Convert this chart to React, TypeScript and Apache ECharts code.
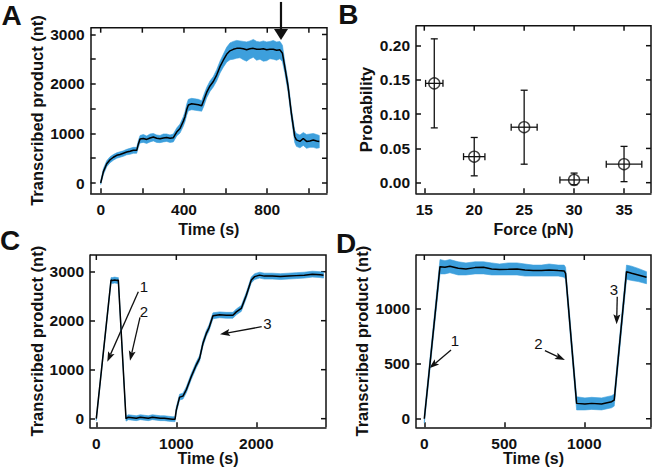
import React, { useEffect, useRef } from 'react';
import * as echarts from 'echarts';

// ---------- Panel A ----------
const aTime = [0, 13, 29, 45, 61, 77, 93, 109, 125, 141, 157, 173, 181, 189, 205, 221, 237, 253, 269, 285, 301, 317, 333, 349, 365, 381, 397, 405, 413, 421, 437, 453, 469, 485, 496, 509, 525, 541, 557, 573, 589, 605, 621, 637, 653, 669, 685, 701, 717, 733, 749, 765, 781, 797, 813, 829, 845, 861, 873, 884, 900, 916, 932, 940, 957, 973, 989, 1005, 1021, 1037, 1050];
const aMean = [0, 230, 390, 470, 520, 560, 575, 600, 625, 640, 660, 660, 790, 890, 900, 880, 910, 930, 905, 895, 910, 920, 905, 915, 1030, 1100, 1250, 1340, 1480, 1575, 1600, 1590, 1580, 1560, 1680, 1830, 1960, 2050, 2180, 2350, 2480, 2600, 2670, 2700, 2720, 2720, 2710, 2690, 2710, 2720, 2700, 2700, 2710, 2690, 2700, 2700, 2680, 2690, 2620, 2350, 1950, 1400, 940, 870, 840, 900, 840, 850, 870, 850, 840];
const aLow = [-30, 170, 330, 410, 460, 500, 520, 540, 570, 580, 600, 600, 720, 810, 820, 800, 830, 850, 820, 815, 830, 840, 820, 830, 950, 1010, 1150, 1240, 1370, 1460, 1480, 1470, 1460, 1450, 1560, 1720, 1850, 1940, 2060, 2220, 2340, 2440, 2490, 2500, 2520, 2530, 2490, 2460, 2510, 2540, 2480, 2500, 2460, 2470, 2510, 2500, 2480, 2510, 2450, 2230, 1840, 1300, 820, 740, 710, 760, 700, 720, 720, 700, 710];
const aHigh = [40, 290, 450, 530, 575, 610, 630, 650, 680, 700, 720, 720, 860, 960, 980, 950, 990, 1000, 970, 960, 990, 990, 970, 990, 1110, 1190, 1340, 1440, 1590, 1690, 1710, 1700, 1690, 1660, 1790, 1930, 2060, 2150, 2290, 2460, 2600, 2740, 2830, 2860, 2880, 2870, 2860, 2850, 2870, 2900, 2860, 2850, 2870, 2850, 2860, 2880, 2850, 2860, 2780, 2460, 2060, 1500, 1060, 1000, 970, 1020, 980, 990, 1000, 980, 960];
const aXTicks = [0, 200, 400, 600, 800, 1000];
const aXLabels = [0, 400, 800];
const aYTicks = [0, 500, 1000, 1500, 2000, 2500, 3000];
const aYLabels = [0, 1000, 2000, 3000];

// ---------- Panel B ----------
const bForce = [16, 20, 25, 30, 35];
const bProb = [0.145, 0.038, 0.081, 0.004, 0.027];
const bProbLow = [0.08, 0.01, 0.027, -0.003, 0.0015];
const bProbHigh = [0.21, 0.066, 0.135, 0.014, 0.053];
const bForceErr = [0.87, 1.07, 1.3, 1.42, 1.78];
const bXTicks = [15, 20, 25, 30, 35];
const bYTicks = [0, 0.05, 0.1, 0.15, 0.2];

// ---------- Panel C ----------
const cTime = [0, 184, 200, 230, 263, 275, 371, 400, 450, 500, 550, 600, 650, 700, 750, 800, 850, 900, 950, 984, 1000, 1041, 1083, 1125, 1187, 1250, 1291, 1333, 1375, 1408, 1458, 1541, 1625, 1708, 1750, 1812, 1875, 1937, 1979, 2041, 2100, 2200, 2300, 2400, 2500, 2600, 2700, 2800, 2840];
const cMean = [0, 2830, 2820, 2830, 2820, 2830, 0, 30, 20, 10, 30, 20, 10, 30, 20, 10, 10, 0, -10, -10, 180, 440, 460, 590, 860, 1100, 1230, 1540, 1740, 1850, 2100, 2120, 2110, 2110, 2180, 2250, 2520, 2830, 2900, 2930, 2910, 2910, 2900, 2910, 2920, 2930, 2950, 2940, 2930];
const cLow = [-40, 2770, 2760, 2770, 2760, 2770, -50, -20, -30, -40, -20, -30, -40, -20, -30, -40, -40, -50, -60, -60, 120, 380, 400, 530, 800, 1040, 1170, 1480, 1680, 1790, 2040, 2060, 2050, 2050, 2120, 2190, 2460, 2770, 2840, 2870, 2850, 2850, 2840, 2850, 2860, 2870, 2890, 2880, 2870];
const cHigh = [40, 2880, 2880, 2890, 2880, 2880, 50, 80, 70, 60, 80, 70, 60, 80, 70, 60, 60, 50, 40, 40, 240, 500, 520, 650, 920, 1160, 1290, 1600, 1800, 1910, 2160, 2180, 2170, 2170, 2240, 2310, 2580, 2890, 2960, 2990, 2970, 2970, 2960, 2970, 2980, 2990, 3010, 3000, 2990];
const cXTicks = [0, 1000, 2000];
const cYTicks = [0, 1000, 2000, 3000];

// ---------- Panel D ----------
const dTime = [0, 98, 129, 160, 212, 260, 317, 370, 421, 470, 525, 580, 629, 680, 733, 780, 837, 874, 883, 952, 1004, 1046, 1108, 1171, 1187, 1264, 1296, 1337, 1389];
const dMean = [0, 1386, 1380, 1390, 1371, 1365, 1377, 1380, 1365, 1360, 1362, 1365, 1356, 1350, 1350, 1355, 1350, 1347, 1325, 140, 134, 140, 134, 155, 170, 1340, 1325, 1310, 1289];
const dLow = [-40, 1320, 1320, 1330, 1310, 1310, 1320, 1320, 1310, 1310, 1310, 1310, 1300, 1300, 1300, 1300, 1300, 1290, 1270, 80, 80, 85, 80, 100, 115, 1270, 1260, 1250, 1230];
const dHigh = [40, 1450, 1440, 1450, 1430, 1420, 1430, 1430, 1420, 1410, 1420, 1420, 1410, 1400, 1400, 1410, 1400, 1400, 1380, 200, 190, 195, 190, 210, 225, 1400, 1390, 1370, 1340];
const dXTicks = [0, 500, 1000];
const dYTicks = [0, 500, 1000];

// axis ranges [xmin, xmax, ymin, ymax]
const aRange = [-48, 1087, -208, 3137];
const bRange = [14.17, 37.7, -0.0155, 0.2292];
const cRange = [-79, 2871, -176, 3341];
const dRange = [-52, 1417, -78, 1492];

// annotations (data coordinates)
const aArrow = { from: [866, 3657], to: [866, 2889] };
const cNotes = [
  { label: '1', at: [596, 2708], from: [525, 2592], to: [137, 1163] },
  { label: '2', at: [596, 2178], from: [546, 2069], to: [421, 1184] },
  { label: '3', at: [2140, 1933], from: [2067, 1878], to: [1546, 1722] },
];
const dNotes = [
  { label: '1', at: [192, 717], from: [167, 626], to: [31, 459] },
  { label: '2', at: [714, 687], from: [754, 620], to: [879, 535] },
  { label: '3', at: [1186, 1180], from: [1206, 1112], to: [1202, 860] },
];

const FONT = '"Liberation Sans", Arial, Helvetica, sans-serif';
const INK = '#111';
const FRAME = '#111';
const BLUE = '#3d9fdc';
const LW = 1.5;
const TICK = 5;

const zip3 = (t: number[], a: number[], b: number[]) => t.map((x, i) => [x, a[i], b[i]]);
const zip2 = (t: number[], a: number[]) => t.map((x, i) => [x, a[i]]);
const plain = (v: number) => String(v);

function xAxis(g: number, r: number[], ticks: number[], labels: number[], name: string, nameGap: number) {
  return {
    type: 'value', gridIndex: g, min: r[0], max: r[1], position: 'bottom', splitLine: { show: false },
    axisLine: { show: true, onZero: false, lineStyle: { color: INK, width: LW } },
    axisTick: { show: true, inside: true, length: TICK, customValues: ticks, lineStyle: { color: INK, width: LW } },
    axisPointer: { show: false },
    axisLabel: { show: true, customValues: labels, margin: 8, fontSize: 15.5, fontWeight: 'bold', color: INK, fontFamily: FONT, formatter: plain },
    name, nameLocation: 'middle', nameGap, nameMoveOverlap: false,
    nameTextStyle: { fontSize: 16, fontWeight: 'bold', color: INK, fontFamily: FONT },
  };
}

function yAxis(g: number, r: number[], ticks: number[], labels: number[], name: string, nameGap: number, fmt?: (v: number) => string) {
  return {
    type: 'value', gridIndex: g, min: r[2], max: r[3], position: 'left', splitLine: { show: false },
    axisLine: { show: true, onZero: false, lineStyle: { color: INK, width: LW } },
    axisTick: { show: true, inside: true, length: TICK, customValues: ticks, lineStyle: { color: INK, width: LW } },
    axisPointer: { show: false },
    axisLabel: { show: true, customValues: labels, margin: 6, fontSize: 15.5, fontWeight: 'bold', color: INK, fontFamily: FONT, formatter: fmt || plain },
    name, nameLocation: 'middle', nameGap, nameRotate: 90, nameMoveOverlap: false,
    nameTextStyle: { fontSize: 16.5, fontWeight: 'bold', color: INK, fontFamily: FONT },
  };
}

function bandSeries(axis: number, t: number[], lo: number[], hi: number[]) {
  return {
    type: 'custom', xAxisIndex: axis, yAxisIndex: axis, z: 1, silent: true,
    data: zip3(t, lo, hi),
    encode: { x: 0, y: [1, 2] },
    renderItem: (params: any, api: any) => {
      if (params.dataIndex !== 0) return null;
      const pts: number[][] = [];
      for (let i = 0; i < t.length; i++) pts.push(api.coord([t[i], hi[i]]));
      for (let i = t.length - 1; i >= 0; i--) pts.push(api.coord([t[i], lo[i]]));
      return { type: 'polygon', shape: { points: pts }, style: { fill: BLUE, stroke: BLUE, lineWidth: 0.6 } };
    },
  };
}

function lineSeries(axis: number, t: number[], v: number[]) {
  return {
    type: 'line', xAxisIndex: axis, yAxisIndex: axis, z: 3, silent: true,
    data: zip2(t, v), showSymbol: false, symbol: 'none',
    lineStyle: { color: '#000', width: 1.5 },
  };
}

function arrow(p0: number[], p1: number[], width: number, headLen: number, headW: number, notch: number) {
  const dx = p1[0] - p0[0], dy = p1[1] - p0[1];
  const L = Math.hypot(dx, dy);
  const ux = dx / L, uy = dy / L;
  const bx = p1[0] - ux * headLen, by = p1[1] - uy * headLen;
  const px = -uy, py = ux;
  return [
    { type: 'line', shape: { x1: p0[0], y1: p0[1], x2: bx + ux * notch, y2: by + uy * notch }, style: { stroke: INK, lineWidth: width } },
    {
      type: 'polygon',
      shape: { points: [[p1[0], p1[1]], [bx + px * headW / 2, by + py * headW / 2], [bx + ux * notch, by + uy * notch], [bx - px * headW / 2, by - py * headW / 2]] },
      style: { fill: INK },
    },
  ];
}

function textEl(txt: string, x: number, y: number, size: number, weight: string) {
  return {
    type: 'text', x, y,
    style: { text: txt, fontSize: size, fontWeight: weight, fontFamily: FONT, fill: INK, align: 'center', verticalAlign: 'middle' },
  };
}

export default function App() {
  const ref = useRef<HTMLDivElement>(null);
  useEffect(() => {
    const chart = echarts.init(ref.current!, null, { renderer: 'svg' });
    const option: any = {
      animation: false,
      textStyle: { fontFamily: FONT },
      grid: [
        { left: 90.7, top: 27.7, width: 236.3, height: 165.6 },
        { left: 416, top: 25.7, width: 235, height: 167.6 },
        { left: 90, top: 255, width: 236, height: 172.3 },
        { left: 416, top: 255, width: 235, height: 172.3 },
      ].map((g) => ({ ...g, show: false })),
      xAxis: [
        xAxis(0, aRange, aXTicks, aXLabels, 'Time (s)', 28),
        xAxis(1, bRange, bXTicks, bXTicks, 'Force (pN)', 28),
        xAxis(2, cRange, cXTicks, cXTicks, 'Time (s)', 23),
        xAxis(3, dRange, dXTicks, dXTicks, 'Time (s)', 23),
      ],
      yAxis: [
        yAxis(0, aRange, aYTicks, aYLabels, 'Transcribed product (nt)', 45),
        yAxis(1, bRange, bYTicks, bYTicks, 'Probability', 42, (v: number) => v.toFixed(2)),
        yAxis(2, cRange, cYTicks, cYTicks, 'Transcribed product (nt)', 45),
        yAxis(3, dRange, dYTicks, dYTicks, 'Transcribed product (nt)', 46),
      ],
      series: [
        bandSeries(0, aTime, aLow, aHigh),
        lineSeries(0, aTime, aMean),
        {
          type: 'custom', xAxisIndex: 1, yAxisIndex: 1, z: 2, silent: true,
          data: bForce.map((f, i) => [f, bProb[i], bForceErr[i], bProbLow[i], bProbHigh[i]]),
          encode: { x: 0, y: [1, 3, 4] },
          renderItem: (params: any, api: any) => {
            const x = api.value(0), y = api.value(1), xe = api.value(2), yl = api.value(3), yh = api.value(4);
            const top = api.coord([x, yh]), bot = api.coord([x, yl]);
            const lft = api.coord([x - xe, y]), rgt = api.coord([x + xe, y]);
            const cap = 3.5;
            const st = { stroke: INK, lineWidth: 1.3 };
            const ln = (x1: number, y1: number, x2: number, y2: number) => ({ type: 'line', shape: { x1, y1, x2, y2 }, style: st });
            return {
              type: 'group',
              children: [
                ln(top[0], top[1], bot[0], bot[1]),
                ln(top[0] - cap, top[1], top[0] + cap, top[1]),
                ln(bot[0] - cap, bot[1], bot[0] + cap, bot[1]),
                ln(lft[0], lft[1], rgt[0], rgt[1]),
                ln(lft[0], lft[1] - cap, lft[0], lft[1] + cap),
                ln(rgt[0], rgt[1] - cap, rgt[0], rgt[1] + cap),
              ],
            };
          },
        },
        {
          type: 'scatter', xAxisIndex: 1, yAxisIndex: 1, z: 3, silent: true,
          data: zip2(bForce, bProb), symbol: 'circle', symbolSize: 11,
          itemStyle: { color: 'rgba(0,0,0,0)', borderColor: INK, borderWidth: 1.4 },
        },
        bandSeries(2, cTime, cLow, cHigh),
        lineSeries(2, cTime, cMean),
        bandSeries(3, dTime, dLow, dHigh),
        lineSeries(3, dTime, dMean),
      ],
    };
    chart.setOption(option);

    const px = (si: number, p: number[]) => chart.convertToPixel({ seriesIndex: si }, p) as unknown as number[];
    const els: any[] = [
      textEl('A', 11.5, 15, 28, 'bold'),
      textEl('B', 348.3, 14.5, 28, 'bold'),
      textEl('C', 10, 240, 28, 'bold'),
      textEl('D', 346, 243.3, 28, 'bold'),
    ];
    // top and right sides of each frame, with inward ticks, placed through the axes' scales
    const mirror = (si: number, r: number[], xt: number[], yt: number[]) => {
      const tl = px(si, [r[0], r[3]]);
      const br = px(si, [r[1], r[2]]);
      const st = { stroke: FRAME, lineWidth: LW };
      els.push({ type: 'polyline', shape: { points: [[tl[0], tl[1]], [br[0], tl[1]], [br[0], br[1]]] }, style: { stroke: FRAME, lineWidth: LW, fill: null } });
      xt.forEach((v) => {
        const X = px(si, [v, r[2]])[0];
        els.push({ type: 'line', shape: { x1: X, y1: tl[1], x2: X, y2: tl[1] + TICK }, style: st });
      });
      yt.forEach((v) => {
        const Y = px(si, [r[0], v])[1];
        els.push({ type: 'line', shape: { x1: br[0], y1: Y, x2: br[0] - TICK, y2: Y }, style: st });
      });
    };
    mirror(1, aRange, aXTicks, aYTicks);
    mirror(3, bRange, bXTicks, bYTicks);
    mirror(5, cRange, cXTicks, cYTicks);
    mirror(7, dRange, dXTicks, dYTicks);

    els.push(...arrow(px(1, aArrow.from), px(1, aArrow.to), 2.2, 11, 14, 0));
    cNotes.forEach((n) => {
      const a = px(5, n.at);
      els.push(textEl(n.label, a[0], a[1], 15, 'normal'));
      els.push(...arrow(px(5, n.from), px(5, n.to), 1.3, 10, 7, 2));
    });
    dNotes.forEach((n) => {
      const a = px(7, n.at);
      els.push(textEl(n.label, a[0], a[1], 15, 'normal'));
      els.push(...arrow(px(7, n.from), px(7, n.to), 1.3, 10, 7, 2));
    });
    chart.setOption({ graphic: { elements: els } });

    return () => chart.dispose();
  }, []);
  return <div ref={ref} style={{ position: 'fixed', left: 0, top: 0, width: 655, height: 470, background: '#fff' }} />;
}
